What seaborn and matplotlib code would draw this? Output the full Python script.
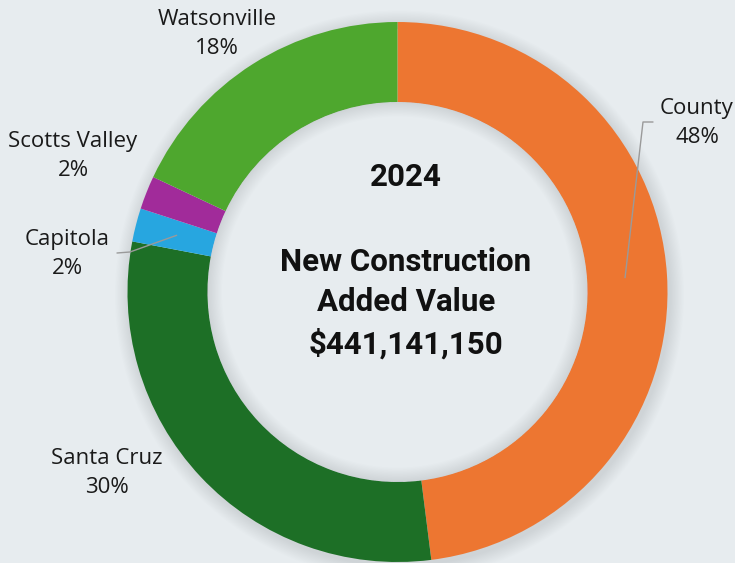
import numpy as np
import matplotlib
matplotlib.use("Agg")
import matplotlib.pyplot as plt
from matplotlib.patches import Wedge
import seaborn as sns

# -------------------------------
# Data
# -------------------------------
regions = ["County", "Santa Cruz", "Capitola", "Scotts Valley", "Watsonville"]
shares = [48, 30, 2, 2, 18]
colors = ["#ED7631", "#1D6F26", "#27A6E0", "#A12B9A", "#4EA72E"]
center_lines = ["2024", "New Construction", "Added Value", "$441,141,150"]

# label anchor positions (pixels from top-left)
label_pos = {
    "County": (697, 123),
    "Santa Cruz": (107, 473),
    "Capitola": (67, 254),
    "Scotts Valley": (73, 156),
    "Watsonville": (217, 34),
}

sns.set_theme(style="white")
plt.rcParams["font.family"] = ["Open Sans", "DejaVu Sans"]

W, H = 735, 563
bg = "#E7ECEF"
fig = plt.figure(figsize=(W / 100, H / 100), dpi=100, facecolor=bg)
ax = fig.add_axes([0, 0, 1, 1])
ax.set_facecolor(bg)

cx, cy = 397.5, H - 292
R = 270
width = 80

# soft shadow around the ring (outside and inside)
for i in range(1, 13):
    ax.add_patch(Wedge((cx + 2, cy - 3), R + i * 1.2, 0, 360, width=i * 1.2 + 4,
                       color="#8f98a0", alpha=0.02, lw=0, zorder=0))
    ax.add_patch(Wedge((cx, cy), R - width, 0, 360, width=i * 1.2,
                       color="#8f98a0", alpha=0.018, lw=0, zorder=3))

wedges, _ = ax.pie(shares, colors=colors, startangle=90, counterclock=False,
                   center=(cx, cy), radius=R,
                   wedgeprops=dict(width=width, linewidth=0))
for w in wedges:
    w.set_zorder(2)

# -------------------------------
# Labels
# -------------------------------
cum = np.cumsum([0] + shares[:-1])
for name, share in zip(regions, shares):
    lx, ly = label_pos[name]
    ax.text(lx, H - ly, f"{name}\n{share}%", ha="center", va="center",
            fontsize=16, color="#1a1a1a", linespacing=1.45, zorder=5)

# leader lines for County and Capitola
for name, elbow, end in [("County", (643, 122), (653, 122)),
                         ("Capitola", (130, 252), (117, 253))]:
    i = regions.index(name)
    mid = np.deg2rad((cum[i] + shares[i] / 2) / 100 * 360)
    px = cx + (R - 42) * np.sin(mid)
    py = cy + (R - 42) * np.cos(mid)
    ax.plot([px, elbow[0], end[0]], [py, H - elbow[1], H - end[1]],
            color="#9a9a9a", lw=1, zorder=4)

# centre text
plt.rcParams["font.family"] = ["Roboto", "DejaVu Sans"]
for txt, y in zip(center_lines, [177, 262, 302, 344]):
    ax.text(406, H - y, txt, ha="center", va="center",
            fontsize=22.5, fontweight="bold", color="#111111", zorder=5)

ax.set_xlim(0, W)
ax.set_ylim(0, H)
ax.set_aspect("equal")
ax.axis("off")

fig.savefig("out.png", dpi=100, facecolor=bg)
